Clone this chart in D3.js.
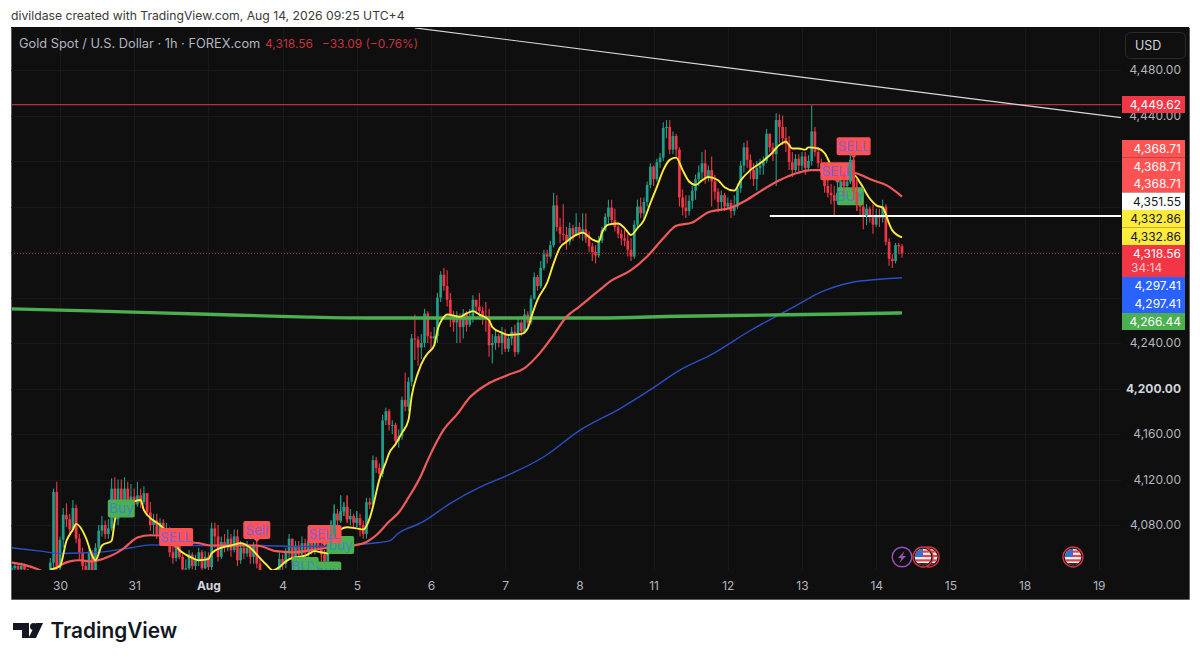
<!DOCTYPE html>
<html>
<head>
<meta charset="utf-8">
<script src="https://cdnjs.cloudflare.com/ajax/libs/d3/7.8.5/d3.min.js"></script>
<style>
html,body{margin:0;padding:0;background:#fff;overflow:hidden}
svg{display:block}
text{font-family:Inter,Roboto,sans-serif}
</style>
</head>
<body>
<svg id="c" width="1200" height="662"></svg>
<script>
// bar number of the first candle; bars count from the bar under the "30" tick
const firstBar = -15;
const closes = [
4042,4044,4041,4044,4041,4038,4035,4033,4030,4028,
4030,4036,4047,4109,4042,4067,4089,4085,4076,4095,
4068,4056,4044,4040,4056,4040,4060,4075,4080,4072,
4077,4112,4085,4112,4095,4112,4100,4105,4098,4106,
4100,4108,4091,4080,4084,4072,4082,4074,4076,4056,
4051,4062,4052,4041,4042,4054,4044,4050,4056,4042,
4052,4043,4077,4070,4052,4065,4060,4068,4058,4070,
4049,4060,4055,4060,4052,4062,4046,4038,4030,4028,
4026,4032,4036,4050,4046,4056,4068,4050,4062,4054,
4064,4056,4066,4058,4068,4060,4054,4048,4070,4072,
4090,4084,4092,4096,4085,4088,4082,4086,4080,4072,
4100,4098,4137,4130,4125,4172,4180,4168,4168,4154,
4158,4190,4184,4206,4244,4243,4236,4240,4266,4246,
4244,4246,4280,4300,4290,4278,4264,4258,4264,4254,
4266,4256,4262,4278,4272,4268,4264,4262,4238,4240,
4246,4240,4248,4235,4244,4250,4232,4258,4250,4265,
4258,4279,4298,4290,4306,4318,4316,4326,4361,4342,
4336,4335,4329,4341,4335,4342,4336,4340,4332,4325,
4320,4317,4330,4339,4351,4359,4348,4342,4336,4332,
4330,4322,4316,4344,4360,4354,4364,4379,4395,4384,
4399,4403,4429,4430,4410,4422,4410,4368,4359,4356,
4365,4374,4384,4390,4398,4385,4392,4382,4373,4364,
4370,4360,4363,4356,4360,4376,4396,4412,4401,4392,
4384,4394,4396,4400,4424,4412,4406,4436,4430,4420,
4415,4399,4392,4402,4396,4404,4394,4400,4426,4408,
4398,4390,4378,4372,4370,4365,4372,4382,4378,4382,
4401,4373,4362,4360,4352,4358,4352,4344,4352,4350,
4360,4329,4314,4312,4326,4325,4318.56];
const highs = [
4045,4047,4046,4047,4046,4041,4038,4036,4034,4032,
4033,4038,4051,4112,4118,4070,4095,4099,4090,4102,
4098,4072,4060,4048,4060,4058,4064,4080,4088,4084,
4085,4121,4122,4120,4120,4122,4118,4116,4112,4118,
4112,4114,4104,4100,4090,4090,4086,4085,4082,4078,
4062,4066,4064,4056,4050,4058,4056,4054,4060,4058,
4057,4056,4082,4082,4080,4070,4072,4076,4072,4076,
4076,4066,4064,4066,4062,4065,4068,4050,4036,4034,
4032,4036,4040,4056,4054,4060,4072,4068,4066,4066,
4070,4068,4072,4068,4072,4080,4066,4058,4078,4084,
4098,4094,4106,4100,4106,4094,4090,4092,4090,4084,
4104,4104,4141,4140,4134,4177,4183,4182,4172,4170,
4164,4193,4214,4210,4248,4265,4246,4248,4270,4268,
4250,4254,4284,4303,4306,4304,4284,4268,4268,4266,
4270,4268,4270,4282,4278,4284,4272,4276,4270,4248,
4252,4248,4254,4252,4248,4254,4256,4262,4260,4270,
4268,4282,4302,4300,4312,4322,4322,4330,4372,4370,
4350,4362,4342,4346,4344,4354,4346,4354,4354,4338,
4328,4326,4334,4342,4354,4366,4366,4358,4346,4340,
4340,4336,4332,4348,4366,4368,4368,4382,4398,4396,
4402,4407,4434,4436,4436,4426,4424,4412,4375,4370,
4370,4378,4388,4396,4408,4410,4396,4404,4388,4376,
4374,4372,4368,4366,4370,4380,4400,4416,4418,4406,
4398,4400,4402,4404,4428,4424,4416,4442,4441,4440,
4430,4422,4408,4406,4406,4408,4408,4405,4449,4430,
4412,4402,4392,4384,4380,4378,4382,4390,4390,4388,
4406,4404,4384,4372,4362,4362,4360,4362,4358,4358,
4366,4362,4332,4318,4328,4328,4327];
const lows = [
4030,4036,4036,4038,4036,4030,4028,4028,4026,4024,
4026,4030,4036,4040,4038,4040,4060,4078,4070,4074,
4064,4050,4040,4032,4035,4035,4036,4055,4070,4068,
4068,4075,4082,4080,4090,4092,4095,4098,4094,4096,
4095,4098,4088,4075,4072,4068,4066,4068,4070,4052,
4046,4048,4050,4036,4036,4040,4041,4040,4044,4040,
4041,4040,4040,4060,4048,4050,4056,4057,4052,4056,
4044,4046,4050,4052,4046,4046,4042,4034,4026,4024,
4022,4026,4030,4038,4040,4042,4050,4046,4046,4050,
4050,4048,4052,4054,4054,4058,4048,4044,4044,4062,
4068,4080,4082,4088,4082,4080,4078,4078,4070,4068,
4068,4094,4096,4126,4120,4122,4168,4163,4160,4150,
4148,4155,4180,4180,4202,4225,4220,4226,4236,4240,
4234,4238,4240,4276,4286,4272,4254,4250,4240,4240,
4244,4250,4254,4258,4266,4262,4256,4250,4228,4222,
4234,4236,4230,4232,4232,4238,4228,4230,4246,4248,
4254,4256,4278,4286,4288,4304,4310,4314,4324,4338,
4328,4330,4322,4326,4330,4334,4332,4330,4328,4320,
4312,4310,4315,4328,4338,4345,4344,4338,4332,4326,
4325,4316,4312,4314,4342,4350,4348,4360,4376,4378,
4382,4394,4400,4420,4406,4406,4404,4360,4352,4350,
4352,4358,4366,4378,4384,4380,4382,4360,4366,4355,
4356,4356,4358,4350,4352,4358,4372,4390,4394,4384,
4378,4374,4388,4388,4398,4408,4400,4378,4416,4414,
4408,4392,4386,4390,4390,4392,4388,4392,4396,4404,
4394,4384,4372,4368,4362,4352,4362,4366,4370,4372,
4380,4366,4356,4352,4340,4344,4346,4336,4342,4342,
4346,4326,4308,4306,4310,4318,4315];
const openFirst = 4040;
// yellow average
const fastBars = [-3,0,2,4,5,8,10,11,13,16,17,19,22,25,26,29,31,34,37,39,41,43,46,47,50,53,56,59,61,64,66,68,70,72,76,79,81,83,86,87,89,92,94,96,97,99,101,102,104,106,108,109,111,113,114,116,117,119,120,124,126,128,130,133,134,137,139,143,145,146,148,151,153,155,157,160,162,165,167,168,170,173,175,177,179,181,183,185,187,189,191,193,195,197,199,201,204,206,209,211,214,217,220,223,225,227,229,231,232,235,237,239,241,243,244,246,248,251,253,255,257,258,261];
const fastValues = [4041,4044,4066,4076,4081,4069,4053,4049,4062,4066,4084,4098,4100,4102,4093,4084,4080,4071,4058,4054,4051,4049,4050,4055,4060,4062,4064,4060,4054,4045,4040,4043,4048,4051,4053,4057,4056,4055,4067,4076,4078,4077,4076,4086,4096,4120,4135,4143,4151,4161,4172,4193,4214,4227,4231,4238,4251,4263,4265,4263,4266,4268,4265,4260,4254,4249,4247,4248,4253,4262,4278,4293,4310,4324,4329,4335,4337,4331,4329,4337,4344,4345,4341,4335,4341,4348,4363,4377,4392,4401,4403,4392,4382,4379,4383,4386,4383,4377,4374,4383,4392,4398,4405,4414,4417,4411,4411,4410,4412,4411,4407,4396,4388,4385,4388,4388,4381,4367,4361,4359,4345,4339,4332.86];
// red average
const midBars = [-15,-11,-6,-4,-2,3,6,10,15,20,22,24,28,34,40,43,47,54,61,67,72,83,91,95,98,102,105,108,112,114,119,123,127,132,139,144,149,153,157,161,167,171,177,182,187,191,196,201,208,213,218,223,228,233,239,247,252,256,261];
const midValues = [4047,4045,4040,4037,4041,4048,4049,4048,4052,4060,4065,4069,4071,4070,4065,4064,4062,4062,4062,4057,4056,4060,4062,4065,4071,4083,4091,4104,4124,4137,4164,4177,4192,4203,4212,4218,4232,4247,4263,4272,4286,4295,4304,4316,4332,4343,4346,4355,4359,4366,4375,4383,4389,4392,4392,4389,4383,4379,4368.71];
// blue average
const slowBars = [-15,-6,0,12,22,28,37,50,62,74,87,97,102,105,112,121,130,139,150,161,174,183,192,202,214,227,236,245,254,261];
const slowValues = [4060,4057,4055,4056,4060,4062.5,4062,4062,4062,4061,4062,4064,4066,4073,4082,4099,4113,4124,4140,4163,4183,4199,4216,4230,4251,4271,4285,4293,4296,4297.41];
// green average
const longBars = [-15,12,43,74,96,118,143,167,192,217,242,261];
const longValues = [4270,4268,4265.5,4263,4262,4262,4262,4262,4263.5,4264.5,4265.5,4266.44];
// drawn levels
const resistance = 4449.62;
const support = 4351.55;
const supportStartBar = 220;
const lastPrice = 4318.56;
const trendBars = [110, 329];
const trendValues = [4517, 4438];
// time axis
const tickBars = [0,23,46,69,92,115,138,161,184,207,230,253,276,299,322];
const tickLabels = ["30","31","Aug","4","5","6","7","8","11","12","13","14","15","18","19"];
// price axis
const priceTicks = [4480,4440,4400,4360,4320,4280,4240,4200,4160,4120,4080];
const priceTickShown = [4480,4440,4240,4200,4160,4120,4080];
// labels on the price axis
const tagText = ["4,449.62","4,368.71","4,368.71","4,368.71","4,351.55","4,332.86","4,332.86","4,318.56","4,297.41","4,297.41","4,266.44"];
const tagFill = ["#f23645","#ff5252","#ff5252","#ff5252","#ffffff","#ffeb3b","#ffeb3b","#f23645","#2962ff","#2962ff","#4caf50"];
const tagInk = ["#fff","#fff","#fff","#fff","#131722","#131722","#131722","#fff","#fff","#fff","#fff"];
const countdown = "34:14";
// signal flags
const signalText = ["Buy","SELL","Sell","BUY","buy","buy","SELL","BUY","SELL","SELL"];
const signalBars = [19,36,61,76,83,87,82,245,241,246];
const signalPrices = [4094.6,4069.5,4075.7,4044,4040,4062.5,4072,4369,4391,4413];
const barsOverFlags = [84,85,87,88,89,92,241,243,245,246,247,250];
// calendar events
const eventBars = [261,314,269.4,267.5];
const eventKinds = ["bolt","flag","flag","flag"];

const svg = d3.select("#c");
const defs = svg.append("defs");
const L=11,R=1121,T=28,B=570,W=1189,F=599;
const x = d3.scaleLinear().domain([0,322]).range([60,1098.8]);
const y = d3.scaleLinear().domain([4480,4040]).range([70,570.5]);
const fmt = d3.format(",.2f");
const UP="#1f9e89",DN="#f23645";

defs.append("clipPath").attr("id","pane").append("rect").attr("x",L).attr("y",T).attr("width",R-L).attr("height",B-T);
svg.append("rect").attr("x",L).attr("y",T-1).attr("width",W-L).attr("height",F-T+1).attr("fill","#0f0f0f");
svg.append("path").attr("d",`M${L+.5} ${T}V${F+.5}H${W+.5}V${T}`).attr("fill","none").attr("stroke","#5d5d5d").attr("stroke-width",1);

// grid
const gridG = svg.append("g").attr("clip-path","url(#pane)").attr("stroke","#191919").attr("stroke-width",1);
gridG.selectAll("line.h").data(priceTicks).join("line").attr("x1",L).attr("x2",R).attr("y1",d=>Math.round(y(d))+.5).attr("y2",d=>Math.round(y(d))+.5);
gridG.selectAll("line.v").data(tickBars).join("line").attr("y1",T).attr("y2",B).attr("x1",d=>Math.round(x(d))+.5).attr("x2",d=>Math.round(x(d))+.5);

const bars = closes.map((c,k)=>({bar:firstBar+k,open:k?closes[k-1]:openFirst,close:c,high:highs[k],low:lows[k]}));
function drawBars(sel,data){
  const g = sel.selectAll("g.b").data(data).join("g").attr("class","b");
  g.append("line").attr("x1",d=>x(d.bar)).attr("x2",d=>x(d.bar)).attr("y1",d=>y(d.high)).attr("y2",d=>y(d.low))
   .attr("stroke",d=>d.close>=d.open?UP:DN).attr("stroke-width",1.1);
  g.append("rect").attr("x",d=>x(d.bar)-1.35).attr("width",2.7)
   .attr("y",d=>y(Math.max(d.open,d.close))).attr("height",d=>Math.max(1,Math.abs(y(d.open)-y(d.close))))
   .attr("fill",d=>d.close>=d.open?UP:DN);
}
const plot = svg.append("g").attr("clip-path","url(#pane)");
drawBars(plot.append("g"),bars);

// levels
plot.append("line").attr("x1",L).attr("x2",R).attr("y1",y(resistance)).attr("y2",y(resistance)).attr("stroke","#b5333d").attr("stroke-width",1.2);
plot.append("line").attr("x1",x(trendBars[0])).attr("x2",x(trendBars[1])).attr("y1",y(trendValues[0])).attr("y2",y(trendValues[1])).attr("stroke","#d8dade").attr("stroke-width",1.2);
plot.append("line").attr("x1",L).attr("x2",R).attr("y1",y(lastPrice)).attr("y2",y(lastPrice)).attr("stroke","#b5333d").attr("stroke-width",1).attr("stroke-dasharray","1 2");
plot.append("line").attr("x1",x(supportStartBar)).attr("x2",R).attr("y1",y(support)).attr("y2",y(support)).attr("stroke","#ffffff").attr("stroke-width",2);

// moving averages
const line = d3.line().x(d=>x(d[0])).y(d=>y(d[1])).curve(d3.curveMonotoneX);
function avg(bs,vs,col,w){
  plot.append("path").attr("d",line(bs.map((b,k)=>[b,vs[k]]))).attr("fill","none").attr("stroke",col).attr("stroke-width",w).attr("stroke-linejoin","round");
}
avg(slowBars,slowValues,"#2a50c8",1.4);
avg(longBars,longValues,"#4caf50",3.4);
avg(midBars,midValues,"#f25a5a",2.2);
avg(fastBars,fastValues,"#ffeb3b",1.9);

// signal flags
signalText.forEach((t,k)=>{
  const sell = t.toLowerCase()==="sell";
  const w = t==="SELL"?34:27, h=18, cx=x(signalBars[k]), cy=y(signalPrices[k]);
  const g = plot.append("g");
  g.append("rect").attr("x",cx-w/2).attr("y",cy-h/2).attr("width",w).attr("height",h).attr("rx",2)
   .attr("fill",sell?"#ff5252":"#4caf50");
  if(sell) g.append("path").attr("d",`M${cx-3} ${cy+h/2}L${cx} ${cy+h/2+3}L${cx+3} ${cy+h/2}Z`).attr("fill","#ff5252");
  g.append("text").attr("x",cx).attr("y",cy+5).attr("text-anchor","middle").attr("font-size",13.5)
   .attr("fill",sell?"#7a5fe0":"#3d86c9").text(t);
});
drawBars(plot.append("g"),bars.filter(d=>barsOverFlags.includes(d.bar)));

// calendar events
const evG = svg.append("g");
eventKinds.forEach((kind,k)=>{
  const cx=x(eventBars[k]), cy=557, g=evG.append("g");
  if(kind==="bolt"){
    g.append("circle").attr("cx",cx).attr("cy",cy).attr("r",9.8).attr("fill","#0f0f0f").attr("stroke","#9c4fc0").attr("stroke-width",1.4);
    g.append("path").attr("d",`M${cx+2.5} ${cy-6}L${cx-4} ${cy+1}H${cx-.5}L${cx-2.5} ${cy+6}L${cx+4} ${cy-1}H${cx+.5}Z`).attr("fill","#9c4fc0");
  } else {
    const id="f"+k;
    defs.append("clipPath").attr("id",id).append("circle").attr("cx",cx).attr("cy",cy).attr("r",8.3);
    g.append("circle").attr("cx",cx).attr("cy",cy).attr("r",10).attr("fill","#0f0f0f").attr("stroke","#d9343f").attr("stroke-width",1.4);
    const f=g.append("g").attr("clip-path",`url(#${id})`);
    f.append("rect").attr("x",cx-9).attr("y",cy-9).attr("width",18).attr("height",18).attr("fill","#f2f2f2");
    d3.range(-6.5,8,4.4).forEach(o=>f.append("rect").attr("x",cx-9).attr("y",cy+o).attr("width",18).attr("height",2.2).attr("fill","#e0474c"));
    f.append("rect").attr("x",cx-9).attr("y",cy-9).attr("width",9).attr("height",9).attr("fill","#3d6fc4");
    f.append("rect").attr("x",cx-9).attr("y",cy+6).attr("width",18).attr("height",3).attr("fill","#2a2a2a");
  }
});

// axes
const yAxis = d3.axisRight(y).tickValues(priceTickShown).tickSize(0).tickPadding(0).tickFormat(fmt);
const yG = svg.append("g").attr("transform","translate(1181,0)").call(yAxis);
yG.select(".domain").remove();
yG.selectAll("text").attr("text-anchor","end").attr("font-size",12).attr("fill",d=>d===4200?"#d1d4dc":"#b2b5be").attr("font-weight",d=>d===4200?700:400).style("font-family","Inter,Roboto,sans-serif");

const xAxis = d3.axisBottom(x).tickValues(tickBars).tickSize(0).tickPadding(0).tickFormat((d,k)=>tickLabels[k]);
const xG = svg.append("g").attr("transform","translate(0,581)").call(xAxis);
xG.select(".domain").remove();
xG.selectAll("text").attr("font-size",12).attr("fill",(d,k)=>tickLabels[k]==="Aug"?"#d1d4dc":"#b2b5be").attr("font-weight",(d,k)=>tickLabels[k]==="Aug"?700:400).style("font-family","Inter,Roboto,sans-serif");

// price tags
const tagTops = [96,140,157.5,175,192.5,210,227.5,245,277,295,313];
const tagH = [17,17.5,17.5,17.5,17.5,17.5,18,32,18,18,17];
tagText.forEach((t,k)=>{
  svg.append("rect").attr("x",1122).attr("y",tagTops[k]).attr("width",63).attr("height",tagH[k]).attr("fill",tagFill[k]);
  svg.append("text").attr("x",1181).attr("y",tagTops[k]+13).attr("text-anchor","end").attr("font-size",12).attr("fill",tagInk[k]).text(t);
});
svg.append("text").attr("x",1131).attr("y",272).attr("font-size",12).attr("fill","#ffc9ce").text(countdown);

// currency box
svg.append("rect").attr("x",1125.5).attr("y",32.5).attr("width",60).attr("height",26).attr("rx",5).attr("fill","none").attr("stroke","#2a2a2a");
svg.append("text").attr("x",1135).attr("y",50).attr("font-size",12.5).attr("fill","#d1d4dc").text("USD");

// headings
svg.append("text").attr("x",11).attr("y",20).attr("font-size",12.2).attr("fill","#3a3a3a").text("divildase created with TradingView.com, Aug 14, 2026 09:25 UTC+4");
svg.append("text").attr("x",19).attr("y",48).attr("font-size",12.8).attr("fill","#b2b5be").text("Gold Spot / U.S. Dollar · 1h · FOREX.com");
svg.append("text").attr("x",265).attr("y",48).attr("font-size",12).attr("fill","#c2333e").text("4,318.56");
svg.append("text").attr("x",322).attr("y",48).attr("font-size",11.9).attr("fill","#c2333e").text("−33.09 (−0.76%)");

// wordmark
svg.append("path").attr("fill","#131722").attr("d","M13 623H29V638H22V630H13Z");
svg.append("circle").attr("cx",33.5).attr("cy",626.5).attr("r",3.5).attr("fill","#131722");
svg.append("path").attr("fill","#131722").attr("d","M36 623H43L36 638H28.5Z");
svg.append("text").attr("x",50.5).attr("y",638).attr("font-size",20.8).attr("font-weight",600).attr("fill","#131722").text("TradingView");
</script>
</body>
</html>
